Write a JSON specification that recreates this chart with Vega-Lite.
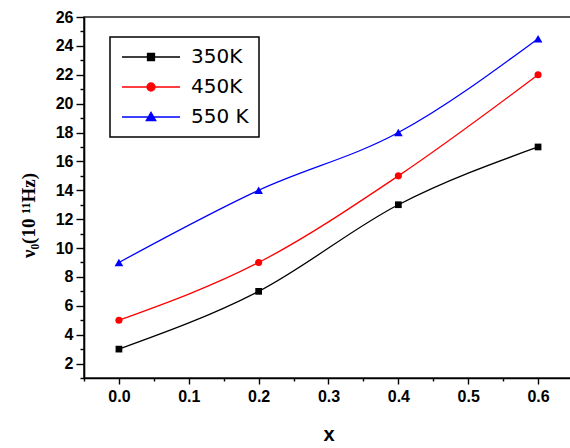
{
  "$schema": "https://vega.github.io/schema/vega-lite/v6.json",
  "width": 489,
  "height": 361,
  "autosize": {"type": "none"},
  "padding": {"left": 84, "top": 17, "right": 0, "bottom": 70},
  "background": "white",
  "data": {
    "values": [
      {"x": 0.0, "v": 3, "series": "350K"},
      {"x": 0.2, "v": 7, "series": "350K"},
      {"x": 0.4, "v": 13, "series": "350K"},
      {"x": 0.6, "v": 17, "series": "350K"},
      {"x": 0.0, "v": 5, "series": "450K"},
      {"x": 0.2, "v": 9, "series": "450K"},
      {"x": 0.4, "v": 15, "series": "450K"},
      {"x": 0.6, "v": 22, "series": "450K"},
      {"x": 0.0, "v": 9, "series": "550 K"},
      {"x": 0.2, "v": 14, "series": "550 K"},
      {"x": 0.4, "v": 18, "series": "550 K"},
      {"x": 0.6, "v": 24.5, "series": "550 K"}
    ]
  },
  "encoding": {
    "x": {
      "field": "x", "type": "quantitative",
      "scale": {"domain": [-0.05, 0.65], "nice": false, "zero": false},
      "axis": {
        "title": "x",
        "values": [-0.05, 0, 0.05, 0.1, 0.15, 0.2, 0.25, 0.3, 0.35, 0.4, 0.45, 0.5, 0.55, 0.6, 0.65],
        "labelExpr": "round(datum.value*100) % 10 === 0 ? format(datum.value, '.1f') : ''",
        "tickSize": {"condition": {"test": "round(datum.value*100) % 10 === 0", "value": 6}, "value": 3},
        "grid": false,
        "labelPadding": 4,
        "titlePadding": 20,
        "titleFontSize": 20
      }
    },
    "y": {
      "field": "v", "type": "quantitative",
      "scale": {"domain": [1, 26], "nice": false, "zero": false},
      "axis": {
        "title": "ν₀(10 ¹¹Hz)",
        "values": [1, 2, 3, 4, 5, 6, 7, 8, 9, 10, 11, 12, 13, 14, 15, 16, 17, 18, 19, 20, 21, 22, 23, 24, 25, 26],
        "labelExpr": "datum.value % 2 === 0 ? datum.label : ''",
        "tickSize": {"condition": {"test": "datum.value % 2 === 0", "value": 8}, "value": 4},
        "grid": false,
        "labelPadding": 3,
        "titlePadding": 17,
        "titleY": 198,
        "titleFont": "Liberation Serif",
        "titleFontSize": 19
      }
    }
  },
  "layer": [
    {
      "transform": [{"filter": "datum.series === '350K'"}],
      "mark": {"type": "line", "interpolate": "monotone", "strokeWidth": 1.3, "color": "#000000"}
    },
    {
      "transform": [{"filter": "datum.series === '450K'"}],
      "mark": {"type": "line", "interpolate": "monotone", "strokeWidth": 1.3, "color": "#ff0000"}
    },
    {
      "transform": [{"filter": "datum.series === '550 K'"}],
      "mark": {"type": "line", "interpolate": "monotone", "strokeWidth": 1.3, "color": "#0000ff"}
    },
    {
      "transform": [{"filter": "datum.series === '350K'"}],
      "mark": {"type": "point", "shape": "square", "filled": true, "size": 45, "color": "#000000", "opacity": 1}
    },
    {
      "transform": [{"filter": "datum.series === '450K'"}],
      "mark": {"type": "point", "shape": "circle", "filled": true, "size": 50, "color": "#ff0000", "opacity": 1}
    },
    {
      "transform": [{"filter": "datum.series === '550 K'"}],
      "mark": {"type": "point", "shape": "triangle-up", "filled": true, "size": 75, "color": "#0000ff", "opacity": 1}
    },
    {
      "mark": {"type": "point", "filled": true, "opacity": 0},
      "encoding": {
        "color": {
          "field": "series", "type": "nominal",
          "scale": {"domain": ["350K", "450K", "550 K"], "range": ["#000000", "#ff0000", "#0000ff"]},
          "legend": {
            "title": null,
            "encode": {
              "symbols": {
                "update": {
                  "stroke": {"scale": "color", "field": "value"},
                  "strokeWidth": {"value": 1.3},
                  "opacity": {"value": 1}
                }
              }
            }
          }
        },
        "shape": {
          "field": "series", "type": "nominal",
          "scale": {
            "domain": ["350K", "450K", "550 K"],
            "range": [
              "M-5.8,0H5.8M-0.7,-0.7H0.7V0.7H-0.7Z",
              "M-5.8,0H5.8M0.8,0A0.8,0.8 0 1,1 -0.8,0A0.8,0.8 0 1,1 0.8,0Z",
              "M-5.8,0H5.8M0,-0.95L0.95,0.7H-0.95Z"
            ]
          },
          "legend": {"title": null}
        }
      }
    }
  ],
  "config": {
    "font": "Liberation Sans",
    "view": {"stroke": "#222222", "strokeWidth": 1.6},
    "axis": {
      "domainColor": "#000000",
      "domainWidth": 1.6,
      "tickColor": "#000000",
      "tickWidth": 1.4,
      "labelFont": "Liberation Sans",
      "labelFontSize": 16,
      "labelFontWeight": "bold",
      "labelColor": "#000000",
      "titleFont": "Liberation Sans",
      "titleFontWeight": "bold",
      "titleColor": "#000000"
    },
    "legend": {
      "orient": "none",
      "legendX": 26,
      "legendY": 20,
      "strokeColor": "#000000",
      "strokeWidth": 1.5,
      "fillColor": "white",
      "padding": 10,
      "symbolSize": 100,
      "symbolStrokeWidth": 1.3,
      "symbolOpacity": 1,
      "symbolOffset": 21,
      "labelFont": "DejaVu Sans",
      "labelFontSize": 20,
      "labelColor": "#000000",
      "labelOffset": 30,
      "rowPadding": 10
    }
  }
}
